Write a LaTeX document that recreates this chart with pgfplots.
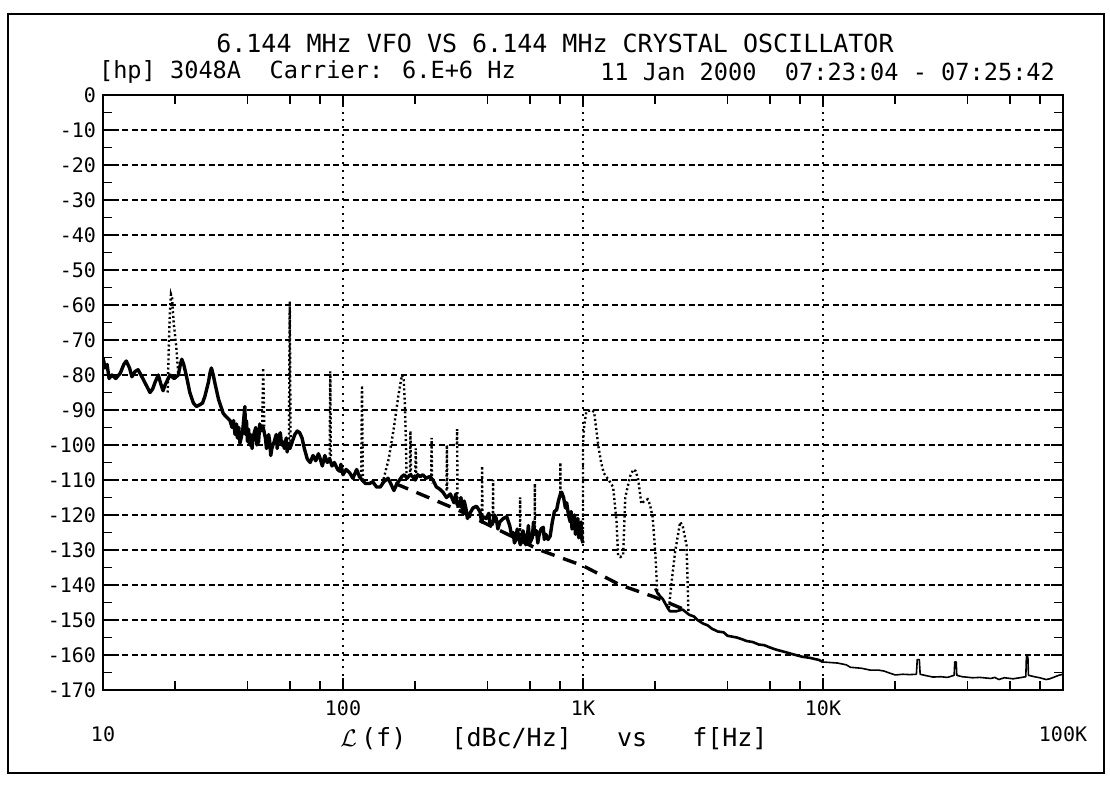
\documentclass[border=0pt]{standalone}
\usepackage{pgfplots}
\pgfplotsset{compat=1.18}
\usepackage{fontspec}
\setmainfont{DejaVu Sans Mono}
\newcommand\tfont{\fontsize{12.5}{14}\selectfont}
\newcommand\sfont{\fontsize{11.8}{14}\selectfont}
\newcommand\lfont{\fontsize{10}{12}\selectfont}
\begin{document}
\begin{tikzpicture}[x=1pt,y=1pt]
\useasboundingbox (0,0) rectangle (555,392);
\draw[line width=1pt] (4,5.5) rectangle (552,385);
\node[font=\tfont] at (277.5,370.5) {6.144 MHz VFO VS 6.144 MHz CRYSTAL OSCILLATOR};
\node[font=\sfont,anchor=west] at (46,356) {[hp] 3048A\ \ Carrier: 6.E+6 Hz};
\node[font=\sfont,anchor=east] at (531,356) {11 Jan 2000\ \ 07:23:04 - 07:25:42};
\node[font=\tfont] at (277,22.5) {\(\mathcal{L}\)\,(f)\ \ \ [dBc/Hz]\ \ \ vs\ \ \ f[Hz]};
\begin{axis}[
  at={(51.5pt,47pt)}, anchor=south west,
  width=480pt, height=297.5pt, scale only axis,
  xmode=log, xmin=10, xmax=100000, ymin=-170, ymax=0,
  axis line style={line width=1pt},
  tick align=inside,
  major tick length=6pt, minor tick length=4.5pt,
  every tick/.style={black, line width=0.9pt},
  xtick={10,100,1000,10000,100000},
  xticklabels={\raisebox{-20pt}{10},100,1K,10K,\raisebox{-20pt}{100K}},
  minor xtick={20,40,60,80,200,400,600,800,2000,4000,6000,8000,20000,40000,60000,80000},
  ytick={0,-10,...,-170},
  yticklabels={0,-10,-20,-30,-40,-50,-60,-70,-80,-90,-100,-110,-120,-130,-140,-150,-160,-170},
  minor ytick={-5,-15,...,-165},
  ticklabel style={font=\lfont},
  /pgf/number format/assume math mode=true,
  ymajorgrids=true,
  major grid style={black, line width=0.9pt, dash pattern=on 3pt off 1.8pt},
  extra x ticks={100,1000,10000},
  extra x tick labels={},
  extra x tick style={xmajorgrids=true, ymajorgrids=false, major tick length=0pt,
     major grid style={black, line width=1.1pt, dash pattern=on 1pt off 2.6pt}},
  xticklabel style={yshift=-2pt},
  clip=true,
  unbounded coords=jump,
]
% main noisy trace 10 Hz - 1 kHz
\addplot[black, line width=1.7pt, line join=round] coordinates {
(10,-75)(10.2,-78)(10.4,-77)(10.6,-81)(10.9,-80)(11.3,-81)(11.8,-79.5)(12.2,-77)(12.5,-76)
(12.9,-78)(13.2,-80.5)(13.6,-79)(14.0,-78.5)(14.4,-80)(14.9,-82)(15.3,-83.5)(15.7,-85)
(16.1,-84)(16.5,-82)(17.0,-80)(17.4,-82.5)(17.8,-84.5)(18.1,-83)(18.4,-82)(19.0,-80)(19.8,-81)
(20.6,-80)(21.0,-77)(21.3,-75.5)(21.7,-77)(22.3,-80.5)(23.0,-85)(23.8,-88)(24.5,-89)(25.3,-88.5)
(26.0,-88)(26.6,-86)(27.5,-82)(28.0,-79)(28.3,-78)(28.8,-80)(29.3,-82.5)(30.3,-87)(31.0,-89)
(31.7,-91)(32.7,-92)(33.8,-93)(34.5,-95)(35.0,-93)(35.5,-97)(36.0,-94)(36.3,-98)(36.8,-95)(37.2,-99.5)(38.2,-96)(39.0,-89)
(39.3,-97)(39.6,-93)(40.0,-99)(40.4,-95.5)(40.8,-100)(41.2,-97)(41.8,-101)(42.3,-97.5)(43.3,-95)(43.8,-100)(44.5,-99)(45.0,-94)(45.5,-96)
(46.5,-95)(47.5,-98)(48.0,-101)(48.5,-100)(49.0,-97)(49.5,-99)(50.0,-103)(50.5,-101)(51.7,-99)(52.7,-97)(53.2,-101)(53.7,-98)(54.8,-96.5)
(55.5,-100)(56,-99)(57,-101)(58,-98)(58.5,-102)(59,-100)(60.1,-101)(61.5,-99)(63,-97)(64.5,-96)(66,-96.5)(67.5,-98)(69,-101)(71,-104)
(73,-105)(75,-103)(77,-104.5)(79,-102.5)(80,-103.5)(82,-106)(84,-103)(86,-105)(88,-104)(90,-106)(92,-105)
(95,-107)(97,-107.5)(98,-105.5)(100,-108.5)(103,-107)(106.7,-108)(110,-109.5)(114,-107)(117,-109)(120,-110)
(124,-111)(129,-111)(133,-110.5)(138,-112)(143,-112)(148,-110.5)(154,-109.5)(158,-111)(163,-113)
(168,-111)(172,-110)(176,-109)(180,-108.5)(185,-109.5)(190,-108.5)(195,-109)(200,-110)(205,-108.5)
(210,-109)(215,-108.5)(222,-109.5)(230,-109)(237,-110)(245,-112)(252,-112.5)(261,-113.5)(270,-115)
(280,-114)(290,-116.5)(295,-114)(299,-117)(306,-117.5)(310,-115)(315,-119)(320,-116)(325,-118)(330,-121)(338,-119.5)(348,-118)(360,-117.5)
(372,-119)(378,-122)(384,-120.5)(395,-121)(405,-119.5)(410,-123)(420,-122.5)(428,-120)(435,-121)(442,-124)(450,-122)(465,-121)(481,-120.5)
(495,-123)(505,-126)(512,-125)(518,-128)(525,-127)(532,-124)(540,-126.5)(548,-128.5)(555,-127.5)(562,-124.5)(570,-126)(577,-128.5)(585,-127.5)(592,-123)(600,-128)
(615,-126.5)(622,-122)(630,-125.5)(640,-124.5)(648,-128)(655,-126)(668,-124)(683,-123.5)(690,-127)(700,-125.5)(715,-127)(730,-126)
(745,-122)(760,-119)(777,-118.5)(790,-116)(805,-114)(815,-113.5)(830,-115)(845,-118)(855,-116.5)
(870,-120)(885,-122)(893,-119)(900,-124)(915,-123)(922,-120)(930,-125.5)(945,-124)(952,-121)(960,-126.5)(975,-125)(982,-122)(990,-127)(1000,-128)
};
% trace above 2 kHz
\addplot[black, line width=1.3pt, line join=round] coordinates {
(2000,-141)(2050,-142.5)(2150,-144)(2250,-146.5)(2300,-147.5)(2450,-147.5)(2600,-147)(2770,-148.5)
(2900,-149)(3000,-150)(3160,-151)(3300,-151.5)(3450,-152.5)(3650,-153.3)(3850,-153.5)(4000,-154.5)
(4370,-155)(4600,-155.5)(4800,-156)(5100,-156.3)(5400,-157)(5700,-157.2)(5980,-157.8)(6400,-158.5)
(7000,-159.2)(7500,-159.8)(8200,-160.5)(8800,-160.8)(9600,-161.4)(10000,-162)
};
\addplot[black, line width=0.8pt, line join=round] coordinates {
(10000,-162)(11500,-162.3)(12500,-162.8)(13000,-163.5)(14500,-163.8)(15700,-164.3)(17000,-164.3)
(18000,-164.6)(19000,-165.2)(20000,-165.7)(21500,-165.5)(23000,-165.6)(24500,-165.5)(24700,-161.3)
(25200,-161.3)(25400,-165.5)(26500,-165.8)(28700,-166.3)(31000,-166.2)(33000,-166.4)(35200,-165.8)
(35400,-162)(35900,-162)(36100,-165.8)(38000,-166.2)(42000,-166.5)(45000,-166.4)(50000,-166.7)
(52000,-166.4)(54000,-167)(57000,-166.5)(62000,-166.8)(66000,-166.5)(70000,-166.2)(70400,-160.5)
(71400,-160.5)(71800,-165.8)(76000,-166.2)(80000,-166.5)(85000,-167)(88000,-166.8)(92000,-166.3)
(96000,-165.8)(100000,-165.5)
};
% short horizontal segment
\addplot[black, line width=0.8pt] coordinates {(1310,-120)(1500,-120)};
% dashed asymptote
\addplot[black, line width=1.7pt, dash pattern=on 7pt off 4.5pt] coordinates {
(165,-111)(300,-118.5)(660,-130)(1000,-134.5)(1430,-140)(2000,-143.5)(2750,-147.5)
};
% dotted spur trace
\addplot[black, line width=1.2pt, dash pattern=on 1pt off 1.3pt] coordinates {
(18.6,-85)(18.8,-72)(19.0,-62)(19.2,-57)(19.4,-58)(19.7,-65)(20.2,-72)(20.6,-80)(20.6,nan)
(46,-96)(46.5,-78)(47,-95)(47,nan)
(59.5,-101)(60,-59)(60.5,-100)(60.5,nan)
(88,-104)(88.5,-79)(89,-104)(89,nan)
(119,-109)(120,-83)(121,-110)(121,nan)
(146,-111)(155,-104)(163,-95)(170,-86)(176,-80)(179,-81)(181,-88)(183,-100)(184,-109)(184,nan)
(190,-109)(191,-96)(192,-109)(192,nan)
(200,-109)(201,-101)(202,-108)(202,nan)
(233,-110)(234,-98)(235,-111)(235,nan)
(270,-113)(271,-100)(272,-113)(272,nan)
(286,-100)(298,-100)(299,-95.5)(300,-118)(300,nan)
(379,-120)(380,-106)(381,-120)(381,nan)
(421,-122)(422,-110)(423,-123)(423,nan)
(546,-126)(547,-115)(548,-127)(548,nan)
(629,-124)(630,-111)(631,-124)(631,nan)
(804,-115)(805,-105)(806,-115)(806,nan)
(1000,-128)(1000,-100)(1010,-95)(1032,-90.5)(1080,-90)(1112,-90.5)(1160,-100.5)(1190,-105)
(1220,-108)(1280,-110)(1335,-112)(1380,-122)(1400,-131.5)(1430,-132)(1470,-131.5)(1500,-115)
(1570,-109)(1620,-107)(1660,-107.5)(1700,-110)(1750,-116.8)(1800,-116)(1860,-115.5)(1900,-117)
(1950,-120.5)(2000,-130.5)(2040,-142)(2280,-146.6)(2350,-138)(2420,-130.5)(2540,-122)(2600,-123)
(2700,-128.6)(2750,-147.5)
};
\end{axis}
\end{tikzpicture}
\end{document}
